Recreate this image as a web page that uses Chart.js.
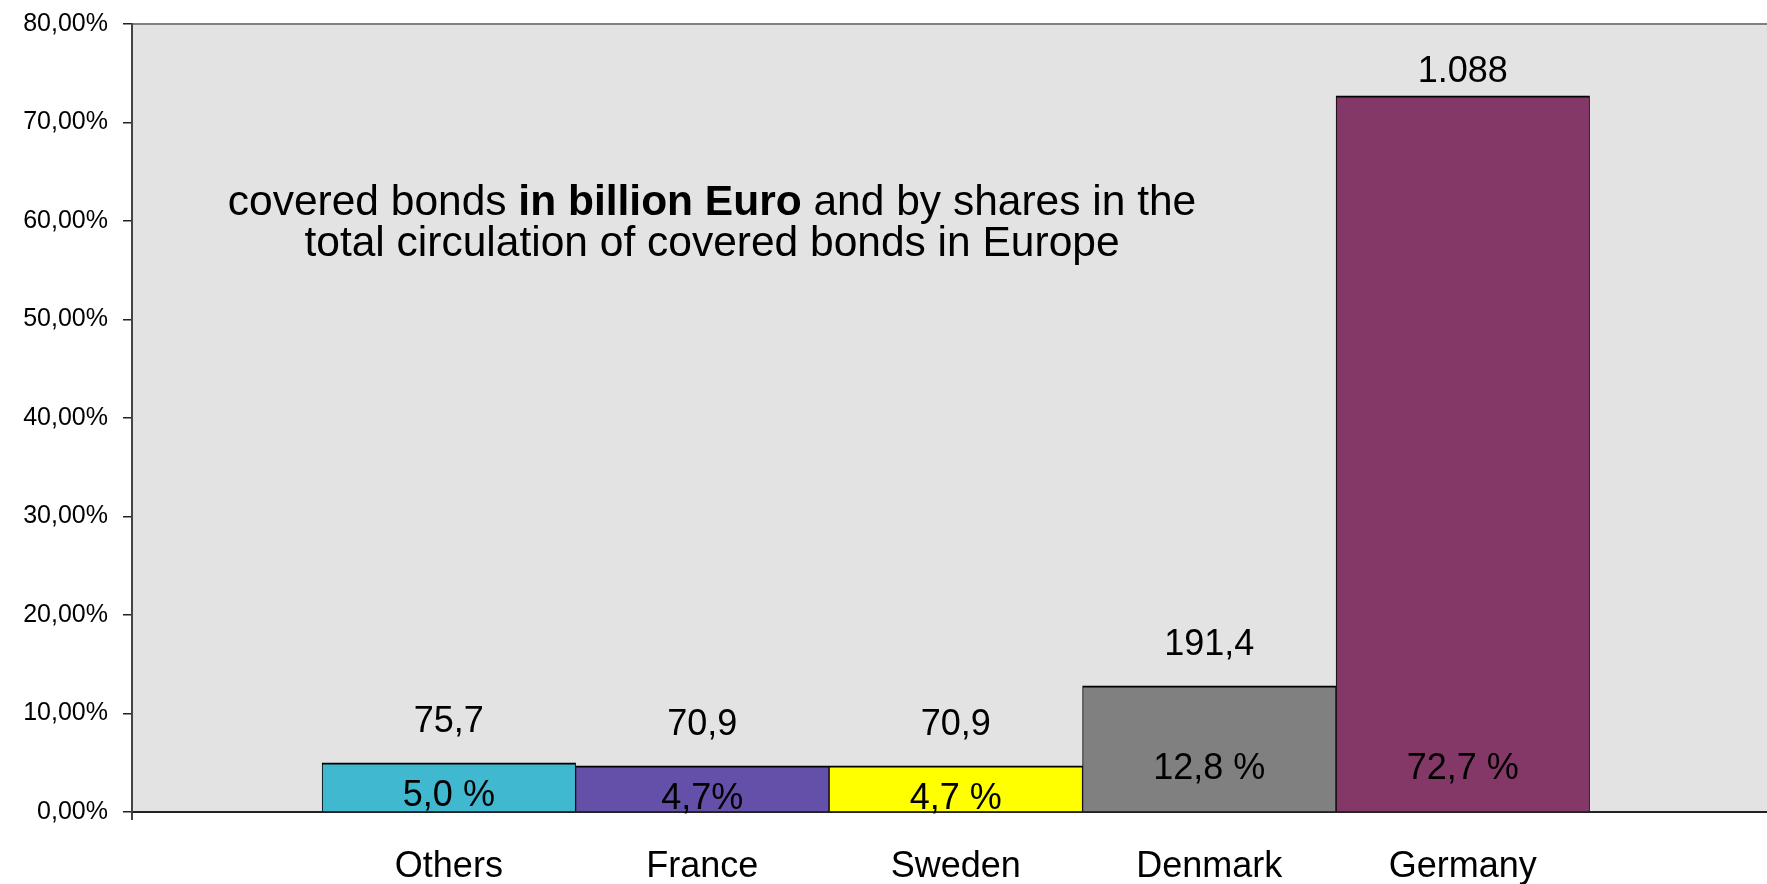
<!DOCTYPE html>
<html>
<head>
<meta charset="utf-8">
<title>Covered bonds in Europe</title>
<script src="https://cdn.jsdelivr.net/npm/chart.js@4.4.1/dist/chart.umd.min.js"></script>
<style>
  html, body { margin: 0; padding: 0; background: #fff; }
  #wrap { width: 1767px; height: 884px; }
</style>
</head>
<body>
<div id="wrap"><canvas id="bondsChart" width="1767" height="884"></canvas></div>
<script>
// countries, share of total circulation (%) and volume (bn EUR)
var countries = ['Others', 'France', 'Sweden', 'Denmark', 'Germany'];
var shares = [5.0, 4.7, 4.7, 12.8, 72.7];
var amounts = [75.7, 70.9, 70.9, 191.4, 1088];
var pctSep = [' ', '', ' ', ' ', ' '];
var barColors = ['#40b8cf', '#6450a8', '#ffff00', '#808080', '#843868'];
var yTicks = [0, 10, 20, 30, 40, 50, 60, 70, 80];

var FONT = '"Liberation Sans", Arial, sans-serif';
Chart.defaults.font.family = FONT;
Chart.defaults.color = '#000';

// german number format: 1.088 / 75,7
function fmtNum(v) {
    var parts = String(v).split('.');
    parts[0] = parts[0].replace(/\B(?=(\d{3})+(?!\d))/g, '.');
    return parts.join(',');
}

// grey plot area plus the thin frame line on top
var plotBackground = {
    id: 'plotBackground',
    beforeDraw: function (chart) {
        var ctx = chart.ctx, a = chart.chartArea;
        ctx.save();
        ctx.fillStyle = '#e3e3e3';
        ctx.fillRect(a.left, a.top, a.right - a.left, a.bottom - a.top);
        ctx.strokeStyle = '#808080';
        ctx.lineWidth = 2;
        ctx.beginPath();
        ctx.moveTo(a.left, a.top);
        ctx.lineTo(a.right, a.top);
        ctx.stroke();
        // axis runs a little below the zero line
        ctx.strokeStyle = '#444';
        ctx.beginPath();
        ctx.moveTo(a.left, a.bottom);
        ctx.lineTo(a.left, a.bottom + 8);
        ctx.stroke();
        ctx.restore();
    }
};

// volume above each bar, share inside it
var barLabels = {
    id: 'barLabels',
    afterDatasetsDraw: function (chart) {
        var ctx = chart.ctx;
        var meta = chart.getDatasetMeta(0);
        ctx.save();
        ctx.font = '36px ' + FONT;
        ctx.fillStyle = '#000';
        ctx.textAlign = 'center';
        ctx.textBaseline = 'middle';
        meta.data.forEach(function (bar, i) {
            ctx.fillText(fmtNum(amounts[i]), bar.x, Math.max(bar.y - 41, chart.chartArea.top + 48));
            var h = bar.base - bar.y;
            var off = Math.min(42, h - 33);
            ctx.fillText(shares[i].toFixed(1).replace('.', ',') + pctSep[i] + '%', bar.x, bar.base - off);
        });
        ctx.restore();
    }
};

// two-line caption in the plot, middle part in bold
var caption = {
    id: 'caption',
    afterDraw: function (chart) {
        var ctx = chart.ctx;
        var cx = 712;
        var line1 = [
            { t: 'covered bonds ', b: false },
            { t: 'in billion Euro', b: true },
            { t: ' and by shares in the', b: false }
        ];
        ctx.save();
        ctx.fillStyle = '#000';
        ctx.textBaseline = 'alphabetic';
        ctx.textAlign = 'left';
        var total = 0;
        line1.forEach(function (s) {
            ctx.font = (s.b ? 'bold ' : '') + '42.5px ' + FONT;
            s.w = ctx.measureText(s.t).width;
            total += s.w;
        });
        var x = cx - total / 2;
        line1.forEach(function (s) {
            ctx.font = (s.b ? 'bold ' : '') + '42.5px ' + FONT;
            ctx.fillText(s.t, x, 215);
            x += s.w;
        });
        ctx.font = '42.5px ' + FONT;
        ctx.textAlign = 'center';
        ctx.fillText('total circulation of covered bonds in Europe', cx, 256);
        ctx.restore();
    }
};

var ctx = document.getElementById('bondsChart').getContext('2d');
var chart = new Chart(ctx, {
    type: 'bar',
    data: {
        datasets: [{
            data: countries.map(function (c, i) { return { x: i, y: shares[i] }; }),
            backgroundColor: barColors,
            borderColor: '#000',
            borderWidth: { top: 2, left: 1, right: 1, bottom: 0 },
            borderSkipped: false,
            barPercentage: 1,
            categoryPercentage: 1
        }]
    },
    options: {
        responsive: false,
        animation: false,
        layout: { padding: { top: 24, left: 0, right: 0, bottom: 0 } },
        plugins: {
            legend: { display: false },
            tooltip: { enabled: false }
        },
        scales: {
            x: {
                type: 'linear',
                offset: false,
                min: -1.25,
                max: 5.2,
                grid: { display: false },
                border: { display: true, color: '#222', width: 2 },
                ticks: {
                    stepSize: 1,
                    includeBounds: false,
                    autoSkip: false,
                    maxRotation: 0,
                    padding: 25,
                    font: { size: 36 },
                    callback: function (v) {
                        return countries[v] !== undefined && Number.isInteger(v) ? countries[v] : '';
                    }
                },
                afterFit: function (scale) { scale.height = 72; }
            },
            y: {
                min: 0,
                max: 80,
                grid: {
                    drawOnChartArea: false,
                    drawTicks: true,
                    tickLength: 9,
                    color: '#222',
                    lineWidth: 1.5
                },
                border: { display: true, color: '#444', width: 2 },
                ticks: {
                    stepSize: 10,
                    padding: 15,
                    font: { size: 25 },
                    callback: function (v) {
                        return yTicks.indexOf(v) >= 0 ? v.toFixed(2).replace('.', ',') + '%' : '';
                    }
                },
                afterFit: function (scale) {
                    scale.width = 132;
                    scale.paddingTop = 0;
                    scale.paddingBottom = 0;
                }
            }
        }
    },
    plugins: [plotBackground, barLabels, caption]
});
</script>
</body>
</html>
